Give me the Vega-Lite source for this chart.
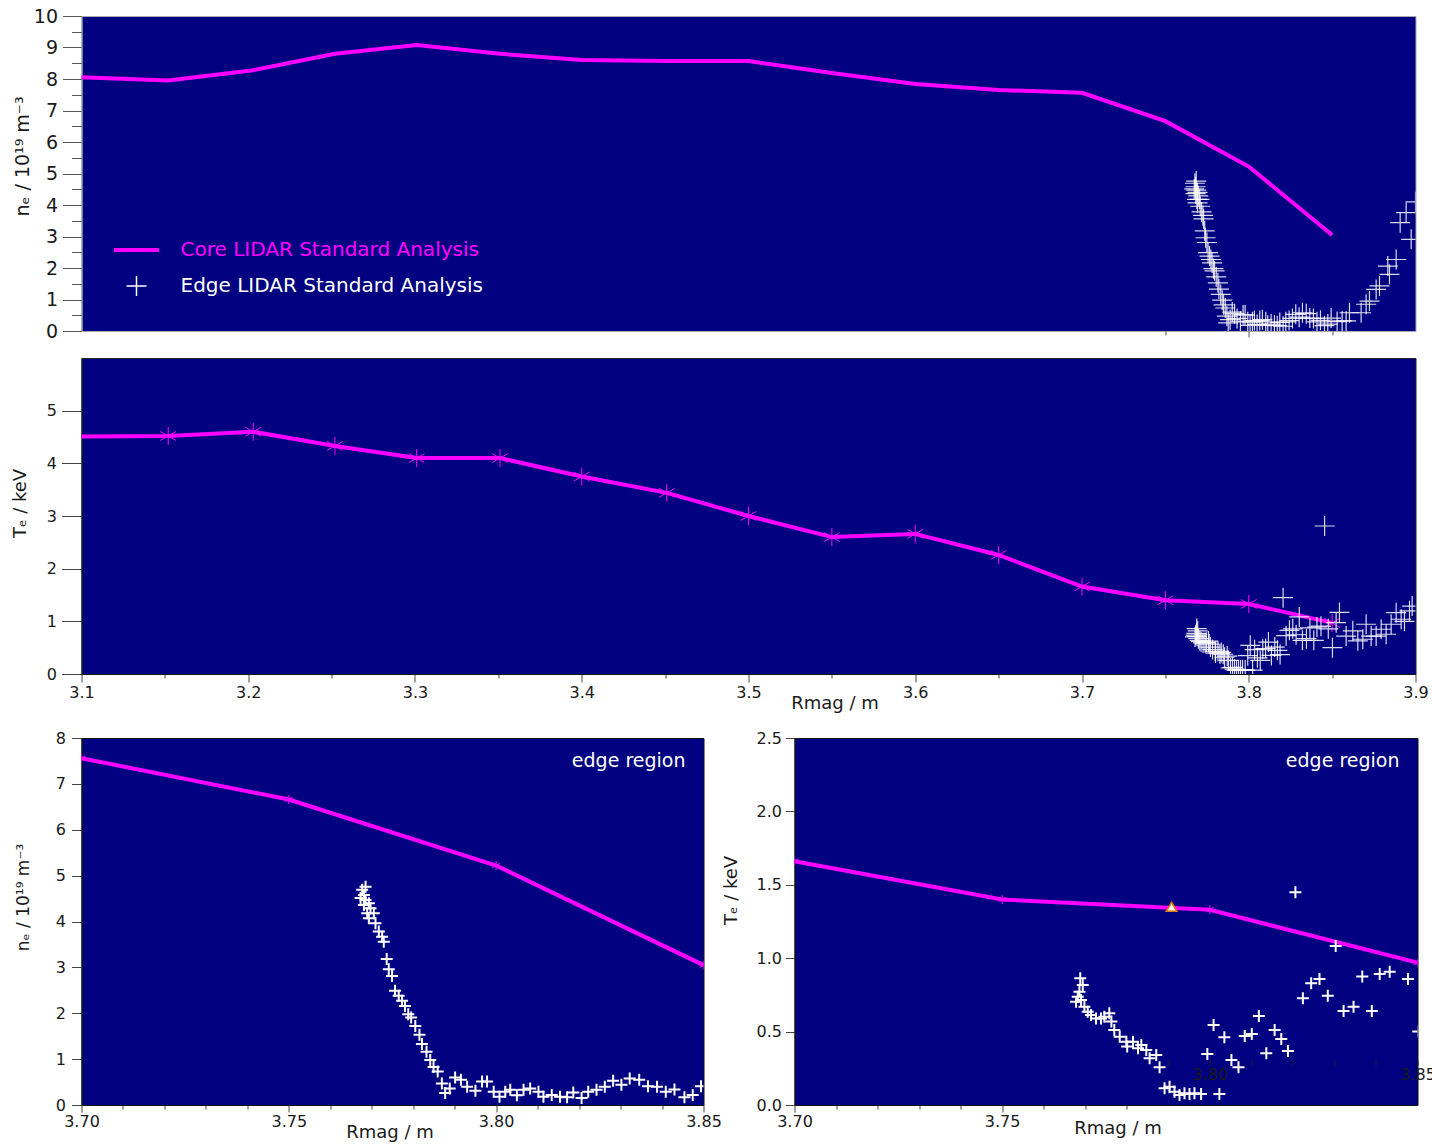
{
  "$schema": "https://vega.github.io/schema/vega-lite/v6.json",
  "background": "white",
  "padding": {"left": 10.5, "top": 6, "right": 0, "bottom": 0},
  "config": {
    "font": "DejaVu Sans",
    "view": {"fill": "#000080", "stroke": "#222"},
    "axis": {"labelFont": "DejaVu Sans", "titleFont": "DejaVu Sans", "labelColor": "#1a1a1a", "titleColor": "#1a1a1a", "titleFontWeight": "normal", "grid": false, "domainColor": "#111", "tickColor": "#444", "labelFlush": false, "labelOverlap": false, "labelSeparation": 0},
    "title": {"font": "DejaVu Sans"}
  },
  "datasets": {
    "core": [
      {"R": 3.05, "ne": 8.15, "Te": 4.5},
      {"R": 3.152, "ne": 7.95, "Te": 4.52},
      {"R": 3.203, "ne": 8.28, "Te": 4.6},
      {"R": 3.252, "ne": 8.8, "Te": 4.33},
      {"R": 3.301, "ne": 9.08, "Te": 4.1},
      {"R": 3.351, "ne": 8.8, "Te": 4.1},
      {"R": 3.4, "ne": 8.6, "Te": 3.75},
      {"R": 3.451, "ne": 8.57, "Te": 3.44},
      {"R": 3.5, "ne": 8.57, "Te": 3.0},
      {"R": 3.55, "ne": 8.19, "Te": 2.6},
      {"R": 3.6, "ne": 7.84, "Te": 2.66},
      {"R": 3.65, "ne": 7.65, "Te": 2.26},
      {"R": 3.7, "ne": 7.56, "Te": 1.66},
      {"R": 3.75, "ne": 6.66, "Te": 1.4},
      {"R": 3.8, "ne": 5.22, "Te": 1.33},
      {"R": 3.85, "ne": 3.05, "Te": 0.97}
    ],
    "edgeNe": [
      {"R": 3.7685, "ne": 4.76}, {"R": 3.7677, "ne": 4.69}, {"R": 3.7681, "ne": 4.58}, {"R": 3.7673, "ne": 4.51},
      {"R": 3.7685, "ne": 4.47}, {"R": 3.7693, "ne": 4.40}, {"R": 3.7681, "ne": 4.36}, {"R": 3.7697, "ne": 4.29},
      {"R": 3.7705, "ne": 4.18}, {"R": 3.7689, "ne": 4.18}, {"R": 3.7693, "ne": 4.07}, {"R": 3.7709, "ne": 3.96},
      {"R": 3.7717, "ne": 3.78}, {"R": 3.7725, "ne": 3.67}, {"R": 3.7729, "ne": 3.56}, {"R": 3.7736, "ne": 3.18},
      {"R": 3.7741, "ne": 2.96}, {"R": 3.7749, "ne": 2.81}, {"R": 3.7756, "ne": 2.49}, {"R": 3.7765, "ne": 2.38},
      {"R": 3.7773, "ne": 2.27}, {"R": 3.778, "ne": 2.16}, {"R": 3.7788, "ne": 1.98}, {"R": 3.7795, "ne": 1.91},
      {"R": 3.7805, "ne": 1.72}, {"R": 3.7815, "ne": 1.53}, {"R": 3.7821, "ne": 1.33}, {"R": 3.7832, "ne": 1.16},
      {"R": 3.7841, "ne": 0.98}, {"R": 3.7849, "ne": 0.83}, {"R": 3.7859, "ne": 0.73}, {"R": 3.7869, "ne": 0.47},
      {"R": 3.7877, "ne": 0.26}, {"R": 3.7888, "ne": 0.36}, {"R": 3.7901, "ne": 0.60}, {"R": 3.7915, "ne": 0.55},
      {"R": 3.793, "ne": 0.40}, {"R": 3.795, "ne": 0.31}, {"R": 3.7966, "ne": 0.51}, {"R": 3.7978, "ne": 0.51},
      {"R": 3.7994, "ne": 0.29}, {"R": 3.8008, "ne": 0.18}, {"R": 3.8022, "ne": 0.29}, {"R": 3.8034, "ne": 0.33},
      {"R": 3.805, "ne": 0.21}, {"R": 3.8066, "ne": 0.33}, {"R": 3.8082, "ne": 0.36}, {"R": 3.8102, "ne": 0.29},
      {"R": 3.8114, "ne": 0.18}, {"R": 3.8134, "ne": 0.22}, {"R": 3.8154, "ne": 0.18}, {"R": 3.8171, "ne": 0.17},
      {"R": 3.8186, "ne": 0.27}, {"R": 3.8206, "ne": 0.15}, {"R": 3.8222, "ne": 0.29}, {"R": 3.8242, "ne": 0.33},
      {"R": 3.8262, "ne": 0.40}, {"R": 3.8282, "ne": 0.53}, {"R": 3.8302, "ne": 0.44}, {"R": 3.8322, "ne": 0.58},
      {"R": 3.8345, "ne": 0.55}, {"R": 3.8366, "ne": 0.41}, {"R": 3.8388, "ne": 0.40}, {"R": 3.8409, "ne": 0.29},
      {"R": 3.843, "ne": 0.34}, {"R": 3.8454, "ne": 0.17}, {"R": 3.8474, "ne": 0.22}, {"R": 3.8494, "ne": 0.41},
      {"R": 3.853, "ne": 0.30}, {"R": 3.856, "ne": 0.32}, {"R": 3.8584, "ne": 0.32}, {"R": 3.8604, "ne": 0.58},
      {"R": 3.8674, "ne": 0.58}, {"R": 3.8704, "ne": 0.85}, {"R": 3.8724, "ne": 0.95}, {"R": 3.8764, "ne": 1.32},
      {"R": 3.8784, "ne": 1.43}, {"R": 3.8834, "ne": 2.06}, {"R": 3.8844, "ne": 1.80}, {"R": 3.8884, "ne": 2.27},
      {"R": 3.8908, "ne": 3.44}, {"R": 3.8944, "ne": 3.76}, {"R": 3.8974, "ne": 2.91}, {"R": 3.9, "ne": 4.10}
    ],
    "edgeTe": [
      {"R": 3.7688, "Te": 0.863}, {"R": 3.7694, "Te": 0.817}, {"R": 3.7686, "Te": 0.772}, {"R": 3.7682, "Te": 0.738},
      {"R": 3.7678, "Te": 0.704}, {"R": 3.769, "Te": 0.715}, {"R": 3.7698, "Te": 0.67}, {"R": 3.7706, "Te": 0.636},
      {"R": 3.7714, "Te": 0.613}, {"R": 3.7726, "Te": 0.59}, {"R": 3.7738, "Te": 0.59}, {"R": 3.7746, "Te": 0.602},
      {"R": 3.7758, "Te": 0.625}, {"R": 3.7763, "Te": 0.568}, {"R": 3.777, "Te": 0.511}, {"R": 3.7783, "Te": 0.465},
      {"R": 3.7799, "Te": 0.431}, {"R": 3.7801, "Te": 0.398}, {"R": 3.7815, "Te": 0.431}, {"R": 3.7827, "Te": 0.386},
      {"R": 3.7835, "Te": 0.409}, {"R": 3.7847, "Te": 0.375}, {"R": 3.7855, "Te": 0.318}, {"R": 3.7871, "Te": 0.34},
      {"R": 3.7879, "Te": 0.257}, {"R": 3.7891, "Te": 0.114}, {"R": 3.7903, "Te": 0.125}, {"R": 3.7915, "Te": 0.091},
      {"R": 3.7927, "Te": 0.068}, {"R": 3.7939, "Te": 0.08}, {"R": 3.7951, "Te": 0.075}, {"R": 3.7963, "Te": 0.08},
      {"R": 3.7979, "Te": 0.075}, {"R": 3.7994, "Te": 0.347}, {"R": 3.8009, "Te": 0.545}, {"R": 3.8023, "Te": 0.075},
      {"R": 3.8035, "Te": 0.461}, {"R": 3.8052, "Te": 0.307}, {"R": 3.8069, "Te": 0.257}, {"R": 3.8084, "Te": 0.47},
      {"R": 3.8101, "Te": 0.484}, {"R": 3.8118, "Te": 0.606}, {"R": 3.8136, "Te": 0.352}, {"R": 3.8156, "Te": 0.511},
      {"R": 3.8172, "Te": 0.45}, {"R": 3.8188, "Te": 0.368}, {"R": 3.8206, "Te": 1.449}, {"R": 3.8224, "Te": 0.727},
      {"R": 3.8244, "Te": 0.83}, {"R": 3.8264, "Te": 0.858}, {"R": 3.8284, "Te": 0.745}, {"R": 3.8303, "Te": 1.083},
      {"R": 3.8322, "Te": 0.64}, {"R": 3.8346, "Te": 0.67}, {"R": 3.8367, "Te": 0.875}, {"R": 3.839, "Te": 0.64},
      {"R": 3.8409, "Te": 0.892}, {"R": 3.8433, "Te": 0.908}, {"R": 3.8455, "Te": 2.81}, {"R": 3.8477, "Te": 0.858},
      {"R": 3.8502, "Te": 0.5}, {"R": 3.8524, "Te": 0.975}, {"R": 3.8544, "Te": 1.17}, {"R": 3.8584, "Te": 0.72},
      {"R": 3.8624, "Te": 0.82}, {"R": 3.8654, "Te": 0.63}, {"R": 3.8684, "Te": 0.66}, {"R": 3.8704, "Te": 0.945},
      {"R": 3.8734, "Te": 0.72}, {"R": 3.8764, "Te": 0.72}, {"R": 3.8794, "Te": 0.85}, {"R": 3.8824, "Te": 0.755},
      {"R": 3.8854, "Te": 0.945}, {"R": 3.8884, "Te": 1.165}, {"R": 3.8914, "Te": 1.04}, {"R": 3.8934, "Te": 1.0},
      {"R": 3.8964, "Te": 1.2}, {"R": 3.898, "Te": 1.29}
    ],
    "tri": [{"R": 3.7908, "Te": 1.35}]
  },
  "spacing": 16,
  "vconcat": [
    {
      "bounds": "flush",
      "spacing": 27,
      "vconcat": [
        {
          "width": 1334,
          "height": 315,
          "view": {"fill": "#000080", "stroke": "#aaa"},
          "resolve": {"axis": {"y": "independent"}},
          "layer": [
            {
              "data": {"name": "core"},
              "mark": {"type": "line", "strokeWidth": 4, "clip": true},
              "encoding": {
                "x": {"field": "R", "type": "quantitative", "scale": {"domain": [3.1, 3.9], "nice": false, "zero": false},
                  "axis": {"values": [3.75, 3.8, 3.85], "labels": false, "title": null, "domain": false, "tickColor": "#555",
                    "tickSize": {"condition": {"test": "abs(datum.value - 3.8) < 0.000001", "value": 6}, "value": 4}}},
                "y": {"field": "ne", "type": "quantitative", "scale": {"domain": [0, 10], "nice": false, "zero": false},
                  "axis": {"orient": "left", "values": [0, 1, 2, 3, 4, 5, 6, 7, 8, 9, 10],
                    "format": ".0f", "labelOverlap": false, "labelSeparation": 0,
                    "tickSize": 19,
                    "labelFontSize": 19, "labelPadding": 5, "domainColor": "#999", "tickColor": "#555",
                    "title": "nₑ / 10¹⁹ m⁻³", "titleFontSize": 19, "titleX": -59, "titleY": 140, "titleBaseline": "middle", "titleAlign": "center", "titleAngle": -90}},
                "color": {"datum": "Core LIDAR Standard Analysis", "type": "nominal",
                  "scale": {"domain": ["Core LIDAR Standard Analysis", "Edge LIDAR Standard Analysis"], "range": ["#ff00ff", "#ffffff"]},
                  "legend": {
                    "title": null, "orient": "none", "legendX": 45, "legendY": 224, "padding": 0,
                    "labelFontSize": 20, "labelFont": "DejaVu Sans", "labelLimit": 500, "symbolSize": 400, "labelOffset": 34, "rowPadding": 13,
                    "encode": {
                      "symbols": {"update": {
                        "shape": {"signal": "datum.value === 'Core LIDAR Standard Analysis' ? 'stroke' : 'M-1,0L1,0M0,-1L0,1'"},
                        "size": {"signal": "datum.value === 'Core LIDAR Standard Analysis' ? 2025 : 400"},
                        "strokeWidth": {"signal": "datum.value === 'Core LIDAR Standard Analysis' ? 4 : 1.5"},
                        "stroke": {"signal": "datum.value === 'Core LIDAR Standard Analysis' ? '#ff00ff' : '#ffffff'"},
                        "fill": {"value": "transparent"},
                        "opacity": {"value": 1}
                      }},
                      "labels": {"update": {"fill": {"signal": "datum.value === 'Core LIDAR Standard Analysis' ? '#ff00ff' : '#ffffff'"}}}
                    }
                  }}
              }
            },
            {
              "data": {"name": "edgeNe"},
              "mark": {"type": "point", "shape": "M-1,0L1,0M0,-1L0,1", "size": 400, "strokeWidth": 1.2, "filled": false, "opacity": 0.85, "clip": true},
              "encoding": {
                "x": {"field": "R", "type": "quantitative"},
                "y": {"field": "ne", "type": "quantitative",
                  "axis": {"orient": "left", "values": [0.5, 1.5, 2.5, 3.5, 4.5, 5.5, 6.5, 7.5, 8.5, 9.5], "labels": false, "domain": false, "title": null, "tickSize": 10, "tickColor": "#555"}},
                "color": {"datum": "Edge LIDAR Standard Analysis", "type": "nominal"}
              }
            }
          ]
        },
        {
          "width": 1334,
          "height": 316,
          "view": {"fill": "#000080", "stroke": "#222"},
          "layer": [
            {
              "data": {"name": "core"},
              "mark": {"type": "line", "color": "#ff00ff", "strokeWidth": 4, "clip": true},
              "encoding": {
                "x": {"field": "R", "type": "quantitative", "scale": {"domain": [3.1, 3.9], "nice": false, "zero": false},
                  "axis": {"values": [3.1, 3.15, 3.2, 3.25, 3.3, 3.35, 3.4, 3.45, 3.5, 3.55, 3.6, 3.65, 3.7, 3.75, 3.8, 3.85, 3.9],
                    "format": ".1f", "labelExpr": "abs(datum.value*10 - round(datum.value*10)) < 0.000001 ? datum.label : ''", "labelOverlap": false,
                    "tickSize": {"condition": {"test": "abs(datum.value*10 - round(datum.value*10)) < 0.000001", "value": 8}, "value": 4},
                    "labelFontSize": 16, "labelPadding": 2,
                    "title": "Rmag / m", "titleFontSize": 18, "titleX": 753, "titleY": 29, "titleBaseline": "middle", "titleAlign": "center"}},
                "y": {"field": "Te", "type": "quantitative", "scale": {"domain": [0, 6], "nice": false, "zero": false},
                  "axis": {"values": [0, 0.25, 0.5, 0.75, 1, 1.25, 1.5, 1.75, 2, 2.25, 2.5, 2.75, 3, 3.25, 3.5, 3.75, 4, 4.25, 4.5, 4.75, 5],
                    "format": ".0f", "labelExpr": "datum.value % 1 === 0 ? datum.label : ''", "labelOverlap": false,
                    "tickSize": {"condition": {"test": "datum.value % 1 === 0", "value": 20}, "value": 11},
                    "labelFontSize": 16, "labelPadding": 5,
                    "title": "Tₑ / keV", "titleFontSize": 18, "titleX": -61, "titleY": 145, "titleBaseline": "middle", "titleAlign": "center", "titleAngle": -90}}
              }
            },
            {
              "data": {"name": "core"},
              "mark": {"type": "point", "shape": "M0,-1L0,1M-0.87,-0.5L0.87,0.5M-0.87,0.5L0.87,-0.5", "size": 324, "strokeWidth": 1, "filled": false, "color": "#ff00ff", "opacity": 1, "clip": true},
              "encoding": {
                "x": {"field": "R", "type": "quantitative"},
                "y": {"field": "Te", "type": "quantitative"}
              }
            },
            {
              "data": {"name": "edgeTe"},
              "mark": {"type": "point", "shape": "M-1,0L1,0M0,-1L0,1", "size": 400, "strokeWidth": 1.2, "filled": false, "color": "#ffffff", "opacity": 0.85, "clip": true},
              "encoding": {
                "x": {"field": "R", "type": "quantitative"},
                "y": {"field": "Te", "type": "quantitative"}
              }
            }
          ]
        }
      ]
    },
    {
      "bounds": "flush",
      "spacing": 91,
      "hconcat": [
        {
          "width": 622,
          "height": 367,
          "view": {"fill": "#000080", "stroke": "#111"},
          "title": {"text": "edge region", "anchor": "end", "frame": "group", "offset": -50, "dx": -18, "color": "#ffffff", "fontSize": 19, "fontWeight": "normal", "baseline": "middle"},
          "layer": [
            {
              "data": {"name": "core"},
              "mark": {"type": "line", "color": "#ff00ff", "strokeWidth": 4, "clip": true},
              "encoding": {
                "x": {"field": "R", "type": "quantitative", "scale": {"domain": [3.7, 3.85], "nice": false, "zero": false},
                  "axis": {"values": [3.7, 3.71, 3.72, 3.73, 3.74, 3.75, 3.76, 3.77, 3.78, 3.79, 3.8, 3.81, 3.82, 3.83, 3.84, 3.85],
                    "format": ".2f", "labelExpr": "abs(datum.value*20 - round(datum.value*20)) < 0.000001 ? datum.label : ''", "labelOverlap": false,
                    "tickSize": {"condition": {"test": "abs(datum.value*20 - round(datum.value*20)) < 0.000001", "value": 7}, "value": 4},
                    "labelFontSize": 16, "labelPadding": 1,
                    "title": "Rmag / m", "titleFontSize": 18, "titleX": 308, "titleY": 27, "titleBaseline": "middle", "titleAlign": "center"}},
                "y": {"field": "ne", "type": "quantitative", "scale": {"domain": [0, 8], "nice": false, "zero": false},
                  "axis": {"values": [0, 0.5, 1, 1.5, 2, 2.5, 3, 3.5, 4, 4.5, 5, 5.5, 6, 6.5, 7, 7.5, 8],
                    "format": ".0f", "labelExpr": "datum.value % 1 === 0 ? datum.label : ''", "labelOverlap": false,
                    "tickSize": {"condition": {"test": "datum.value % 1 === 0", "value": 10}, "value": 5},
                    "labelFontSize": 16, "labelPadding": 6,
                    "title": "nₑ / 10¹⁹ m⁻³", "titleFontSize": 17, "titleX": -58, "titleY": 159, "titleBaseline": "middle", "titleAlign": "center", "titleAngle": -90}}
              }
            },
            {
              "data": {"name": "core"},
              "mark": {"type": "point", "shape": "M0,-1L0,1M-0.87,-0.5L0.87,0.5M-0.87,0.5L0.87,-0.5", "size": 81, "strokeWidth": 1, "filled": false, "color": "#ff00ff", "opacity": 1, "clip": true},
              "encoding": {
                "x": {"field": "R", "type": "quantitative"},
                "y": {"field": "ne", "type": "quantitative"}
              }
            },
            {
              "data": {"name": "edgeNe"},
              "mark": {"type": "point", "shape": "M-1,0L1,0M0,-1L0,1", "size": 144, "strokeWidth": 2, "filled": false, "color": "#ffffff", "opacity": 1, "clip": true},
              "encoding": {
                "x": {"field": "R", "type": "quantitative"},
                "y": {"field": "ne", "type": "quantitative"}
              }
            }
          ]
        },
        {
          "width": 623,
          "height": 367,
          "view": {"fill": "#000080", "stroke": "#111"},
          "title": {"text": "edge region", "anchor": "end", "frame": "group", "offset": -50, "dx": -18, "color": "#ffffff", "fontSize": 19, "fontWeight": "normal", "baseline": "middle"},
          "resolve": {"axis": {"x": "independent"}},
          "layer": [
            {
              "data": {"name": "core"},
              "mark": {"type": "line", "color": "#ff00ff", "strokeWidth": 4, "clip": true},
              "encoding": {
                "x": {"field": "R", "type": "quantitative", "scale": {"domain": [3.7, 3.85], "nice": false, "zero": false},
                  "axis": {"orient": "bottom", "values": [3.7, 3.71, 3.72, 3.73, 3.74, 3.75, 3.76, 3.77, 3.78],
                    "format": ".2f", "labelExpr": "abs(datum.value*20 - round(datum.value*20)) < 0.000001 ? datum.label : ''", "labelOverlap": false,
                    "tickSize": {"condition": {"test": "abs(datum.value*20 - round(datum.value*20)) < 0.000001", "value": 7}, "value": 4},
                    "labelFontSize": 16, "labelPadding": 1,
                    "title": "Rmag / m", "titleFontSize": 18, "titleX": 323, "titleY": 23, "titleBaseline": "middle", "titleAlign": "center"}},
                "y": {"field": "Te", "type": "quantitative", "scale": {"domain": [0, 2.5], "nice": false, "zero": false},
                  "axis": {"values": [0, 0.125, 0.25, 0.375, 0.5, 0.625, 0.75, 0.875, 1, 1.125, 1.25, 1.375, 1.5, 1.625, 1.75, 1.875, 2, 2.125, 2.25, 2.375, 2.5],
                    "format": ".1f", "labelExpr": "abs(datum.value*2 - round(datum.value*2)) < 0.000001 ? datum.label : ''", "labelOverlap": false,
                    "tickSize": {"condition": {"test": "abs(datum.value*2 - round(datum.value*2)) < 0.000001", "value": 9}, "value": 5},
                    "labelFontSize": 16, "labelPadding": 4,
                    "title": "Tₑ / keV", "titleFontSize": 18, "titleX": -63, "titleY": 152, "titleBaseline": "middle", "titleAlign": "center", "titleAngle": -90}}
              }
            },
            {
              "data": {"name": "core"},
              "mark": {"type": "point", "shape": "M0,-1L0,1M-0.87,-0.5L0.87,0.5M-0.87,0.5L0.87,-0.5", "size": 81, "strokeWidth": 1, "filled": false, "color": "#ff00ff", "opacity": 1, "clip": true},
              "encoding": {
                "x": {"field": "R", "type": "quantitative", "axis": null},
                "y": {"field": "Te", "type": "quantitative"}
              }
            },
            {
              "data": {"name": "edgeTe"},
              "mark": {"type": "point", "shape": "M-1,0L1,0M0,-1L0,1", "size": 144, "strokeWidth": 2, "filled": false, "color": "#ffffff", "opacity": 1, "clip": true},
              "encoding": {
                "x": {"field": "R", "type": "quantitative", "axis": null},
                "y": {"field": "Te", "type": "quantitative"}
              }
            },
            {
              "data": {"name": "tri"},
              "mark": {"type": "point", "shape": "triangle-up", "size": 110, "strokeWidth": 1.5, "filled": true, "fill": "#fff4ee", "stroke": "#e07a10", "opacity": 1, "clip": true},
              "encoding": {
                "x": {"field": "R", "type": "quantitative",
                  "axis": {"orient": "bottom", "offset": -45, "domain": false, "zindex": 1, "values": [3.79, 3.8, 3.81, 3.82, 3.83, 3.84, 3.85],
                    "format": ".2f", "labelExpr": "abs(datum.value*20 - round(datum.value*20)) < 0.000001 ? datum.label : ''", "labelOverlap": false,
                    "tickSize": 5, "tickColor": "#222", "labelFontSize": 16, "labelPadding": 1, "title": null}},
                "y": {"field": "Te", "type": "quantitative"}
              }
            }
          ]
        }
      ]
    }
  ]
}
